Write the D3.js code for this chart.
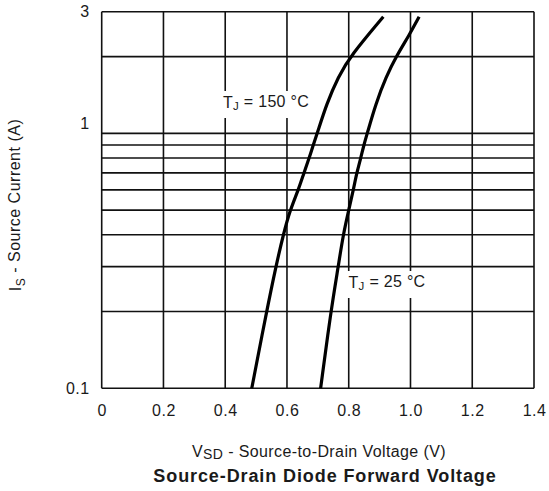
<!DOCTYPE html>
<html>
  <head>
    <meta charset="utf-8" />
    <title>Source-Drain Diode Forward Voltage</title>
    <script src="https://cdn.jsdelivr.net/npm/d3@7"></script>
    <style>
      body { margin: 0; background: #fff; }
      text { font-family: "Liberation Sans", Arial, sans-serif; fill: #1a1a1a; }
    </style>
  </head>
  <body>
    <script>
// values (log current axis)
var xTicks = [0, 0.2, 0.4, 0.6, 0.8, 1.0, 1.2, 1.4];
var xTickLabels = ["0", "0.2", "0.4", "0.6", "0.8", "1.0", "1.2", "1.4"];
var yGrid = [0.1, 0.2, 0.3, 0.4, 0.5, 0.6, 0.7, 0.8, 0.9, 1, 2, 3];
var yTicks = [0.1, 1, 3];
var yTickLabels = ["0.1", "1", "3"];

var vsd150 = [0.486, 0.534, 0.564, 0.588, 0.610, 0.637, 0.655, 0.672, 0.685, 0.698, 0.729, 0.766, 0.806, 0.912];
var is150  = [0.1,   0.2,   0.3,   0.4,   0.5,   0.6,   0.7,   0.8,   0.9,   1.0,   1.311, 1.667, 2.015, 2.865];
var vsd25  = [0.709, 0.742, 0.766, 0.782, 0.800, 0.815, 0.826, 0.839, 0.849, 0.860, 0.888, 0.921, 0.955, 0.996, 1.028];
var is25   = [0.1,   0.2,   0.3,   0.4,   0.5,   0.6,   0.7,   0.8,   0.9,   1.0,   1.311, 1.667, 2.015, 2.43,  2.865];

var w = 549, h = 491,
    margin = {top: 11.7, right: 15, bottom: 102.7, left: 101.7};

var svg = d3.select("body").append("svg")
  .attr("width", w)
  .attr("height", h);

var x = d3.scaleLinear().domain([0, 1.4]).range([margin.left, w - margin.right]);
var y = d3.scaleLog().domain([0.1, 3]).range([h - margin.bottom, margin.top]);

// grid
svg.append("g").selectAll("line").data(xTicks).enter().append("line")
  .attr("x1", function(d) { return x(d); })
  .attr("x2", function(d) { return x(d); })
  .attr("y1", y(0.1)).attr("y2", y(3))
  .attr("stroke", "#111").attr("stroke-width", 1.6);

svg.append("g").selectAll("line").data(yGrid).enter().append("line")
  .attr("x1", x(0)).attr("x2", x(1.4))
  .attr("y1", function(d) { return y(d); })
  .attr("y2", function(d) { return y(d); })
  .attr("stroke", "#111").attr("stroke-width", 1.6);

// axes (labels only)
var xAxis = svg.append("g")
  .attr("transform", "translate(0," + y(0.1) + ")")
  .call(d3.axisBottom(x).tickValues(xTicks).tickSize(0).tickPadding(16)
    .tickFormat(function(d, i) { return xTickLabels[i]; }));
xAxis.select(".domain").remove();
xAxis.selectAll("text").style("font-size", "16px").style("letter-spacing", "0.5px").attr("fill", "#1a1a1a");

var yAxis = svg.append("g")
  .attr("transform", "translate(" + x(0) + ",0)")
  .call(d3.axisLeft(y).tickValues(yTicks).tickSize(0).tickPadding(12)
    .tickFormat(function(d, i) { return yTickLabels[i]; }));
yAxis.select(".domain").remove();
yAxis.selectAll("text").style("font-size", "16px").style("letter-spacing", "0.5px").attr("fill", "#1a1a1a");
// the "1" label sits a little above its grid line in the original
yAxis.selectAll(".tick").filter(function(d) { return d === 1; })
  .select("text").attr("dy", "-0.3em");

// curves
var line = d3.line()
  .x(function(d) { return x(d[0]); })
  .y(function(d) { return y(d[1]); })
  .curve(d3.curveBasis);

[[vsd150, is150], [vsd25, is25]].forEach(function(s) {
  svg.append("path")
    .datum(d3.zip(s[0], s[1]))
    .attr("d", line)
    .attr("fill", "none")
    .attr("stroke", "#000")
    .attr("stroke-width", 3.2);
});

// curve labels with white boxes over the grid
function tjLabel(cx, cy, temp) {
  var g = svg.append("g");
  var rect = g.append("rect").attr("fill", "#fff");
  var t = g.append("text")
    .attr("x", cx).attr("y", cy)
    .attr("text-anchor", "middle")
    .attr("dominant-baseline", "middle")
    .style("font-size", "16px")
    .style("letter-spacing", "0.3px");
  t.append("tspan").text("T");
  t.append("tspan").text("J").style("font-size", "11.5px").attr("dy", "0.3em");
  t.append("tspan").text(" = " + temp + " \u00b0C").attr("dy", "-0.3em");
  var bb = t.node().getBBox();
  rect.attr("x", bb.x - 4).attr("y", cy - 13).attr("width", bb.width + 8).attr("height", 27);
}
tjLabel(266, 104, 150);
tjLabel(387, 284, 25);

// axis titles
var xl = svg.append("text")
  .attr("x", 319).attr("y", 457)
  .attr("text-anchor", "middle")
  .style("font-size", "16px")
  .style("letter-spacing", "0.4px");
xl.append("tspan").text("V");
xl.append("tspan").text("SD").style("font-size", "14px").attr("dy", "0.15em");
xl.append("tspan").text(" - Source-to-Drain Voltage (V)").attr("dy", "-0.15em");

var yl = svg.append("text")
  .attr("transform", "translate(21,205) rotate(-90)")
  .attr("text-anchor", "middle")
  .style("font-size", "16px")
  .style("letter-spacing", "0.5px");
yl.append("tspan").text("I");
yl.append("tspan").text("S").style("font-size", "12px").attr("dy", "0.3em");
yl.append("tspan").text(" - Source Current (A)").attr("dy", "-0.3em");

svg.append("text")
  .attr("x", 325).attr("y", 482)
  .attr("text-anchor", "middle")
  .style("font-size", "18px")
  .style("letter-spacing", "0.9px")
  .style("font-weight", "bold")
  .text("Source-Drain Diode Forward Voltage");
    </script>
  </body>
</html>
